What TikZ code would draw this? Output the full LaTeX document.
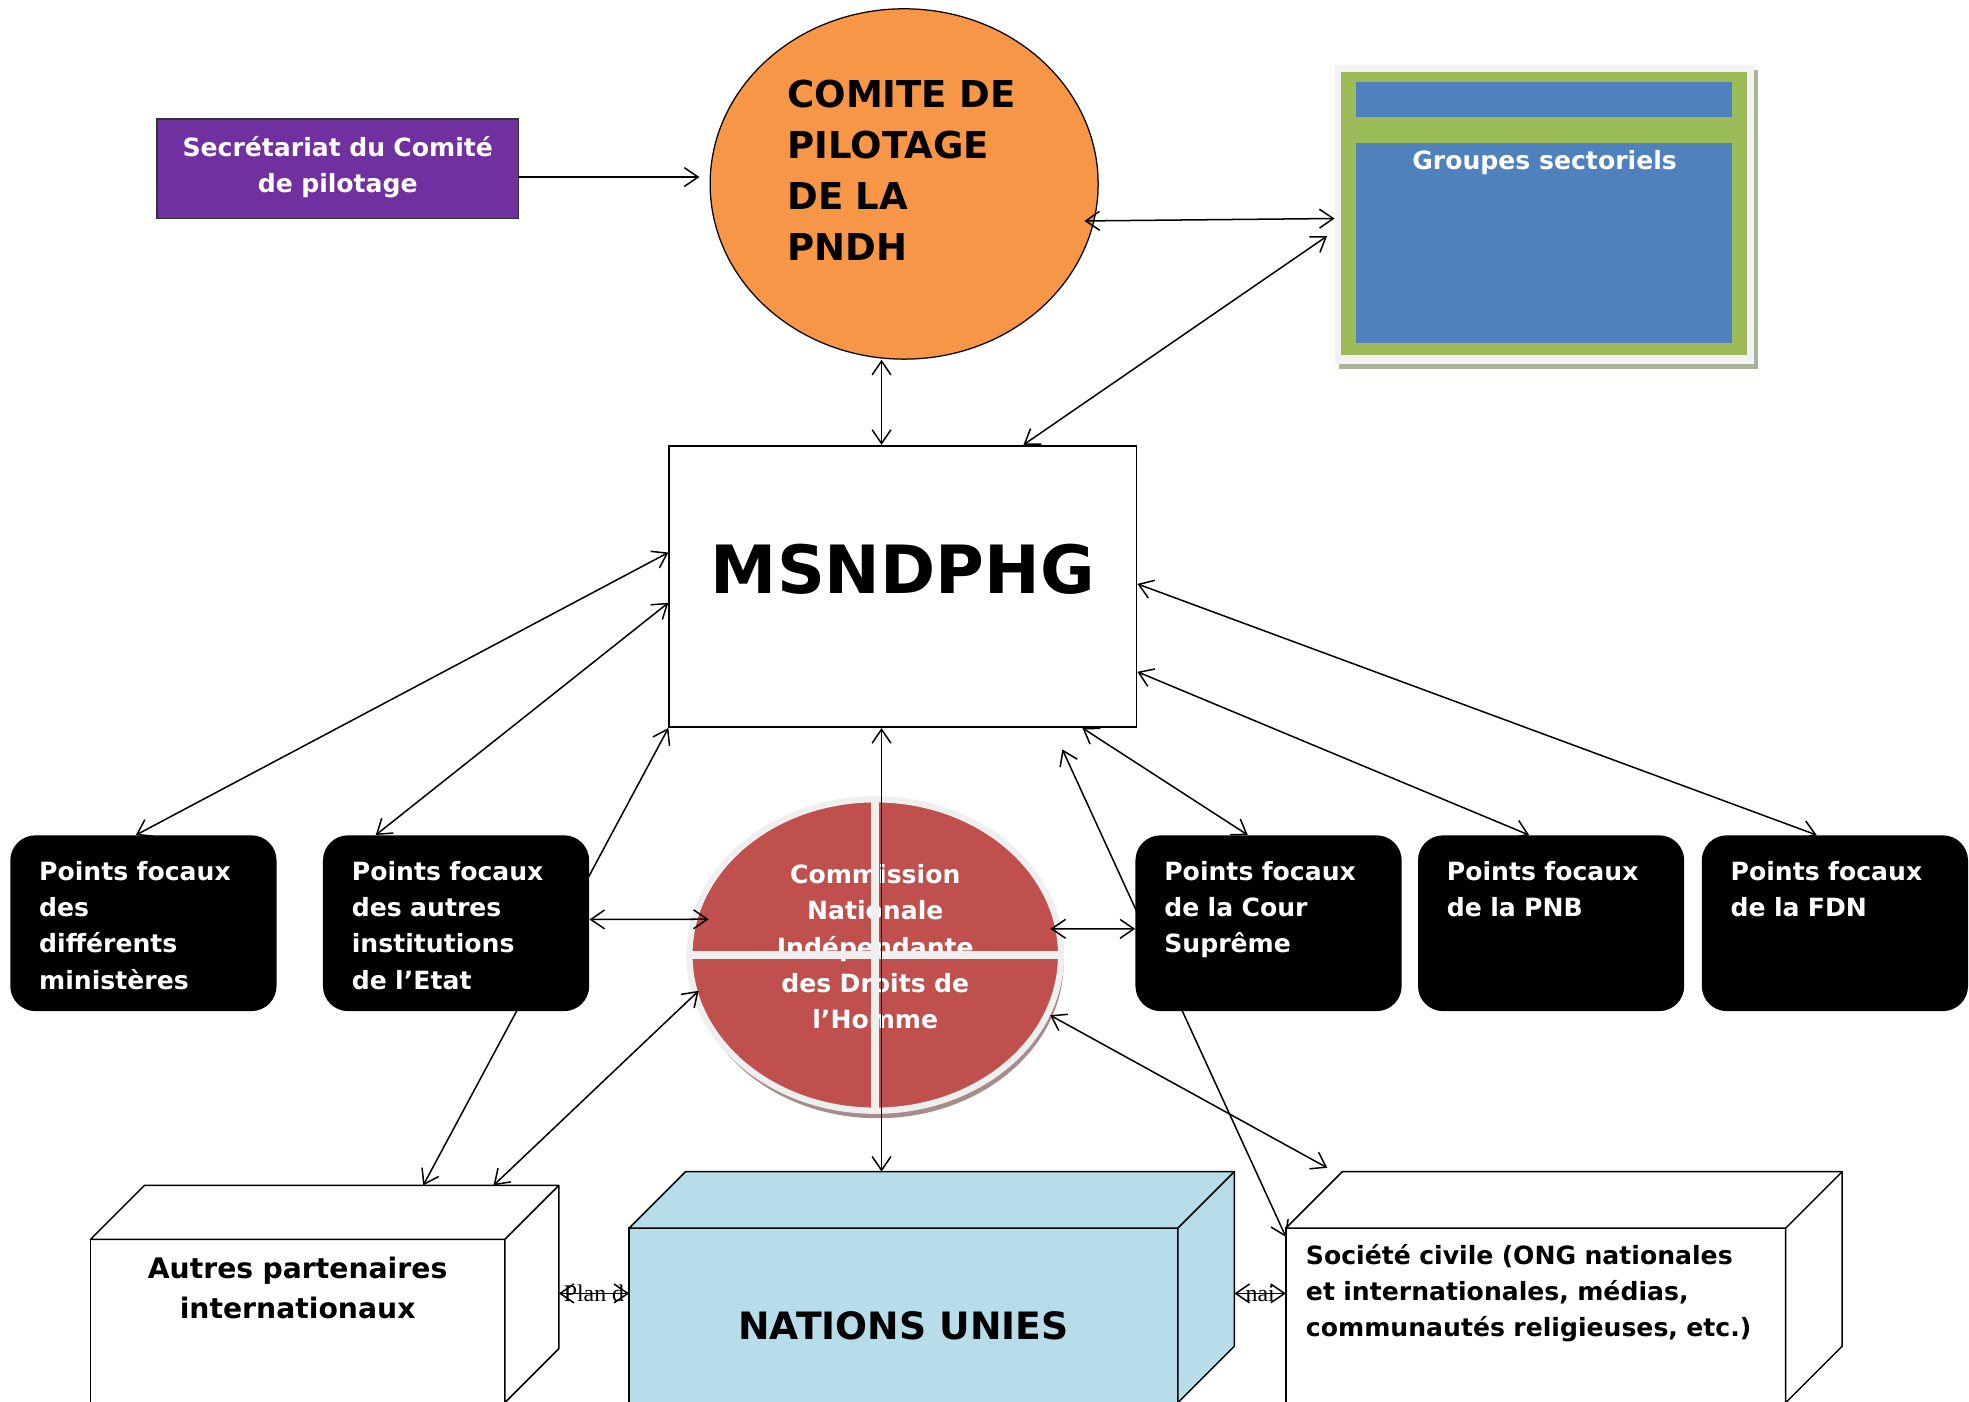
\documentclass[tikz,border=0pt]{standalone}
\usepackage{fontspec}
\setmainfont{DejaVu Sans}
\newfontfamily\labelfont{Liberation Serif}
\usetikzlibrary{shapes.geometric,arrows.meta,shadows}

\definecolor{secpurple}{HTML}{7030A0}
\definecolor{cporange}{HTML}{F79646}
\definecolor{gsgreen}{HTML}{9BBB59}
\definecolor{gsblue}{HTML}{4F81BD}
\definecolor{gsgray}{HTML}{F2F2F2}
\definecolor{gsshadow}{HTML}{A9B39C}
\definecolor{cndhred}{HTML}{C0504D}
\definecolor{cndhring}{HTML}{EFEFEF}
\definecolor{cndhshadow}{HTML}{A88C8C}
\definecolor{nublue}{HTML}{B7DDE8}

\pgfdeclarelayer{bg}
\pgfsetlayers{bg,main}

\tikzstyle{sec} = [rectangle, draw=black!80, line width=1.3pt, fill=secpurple, text=white,
    minimum width=288pt, minimum height=79pt, text width=270pt, align=center,
    text depth=36.4pt, font=\fontsize{20}{29}\selectfont\bfseries]
\tikzstyle{comite} = [ellipse, draw, line width=1pt, fill=cporange, inner sep=0pt,
    minimum width=309pt, minimum height=279pt, text width=186pt, align=left,
    text depth=143pt, font=\fontsize{29.5}{40.5}\selectfont\bfseries]
\tikzstyle{groupes} = [rectangle, fill=gsgray, inner sep=0pt, minimum width=334pt,
    minimum height=238pt, text=white, text depth=86.6pt,
    font=\fontsize{20}{24}\selectfont\bfseries,
    drop shadow={shadow xshift=3pt, shadow yshift=-4pt, fill=gsshadow, opacity=1},
    path picture={
        \fill[gsgreen] ([xshift=5pt,yshift=-5pt]path picture bounding box.north west)
            rectangle ([xshift=-6pt,yshift=7pt]path picture bounding box.south east);
        \fill[gsblue] ([xshift=17pt,yshift=-13pt]path picture bounding box.north west)
            rectangle ([xshift=-18pt,yshift=-41pt]path picture bounding box.north east);
        \fill[gsblue] ([xshift=17pt,yshift=-62pt]path picture bounding box.north west)
            rectangle ([xshift=-18pt,yshift=17pt]path picture bounding box.south east);
    }]
\tikzstyle{msnbox} = [rectangle, draw, line width=1.5pt, fill=white, minimum width=372pt,
    minimum height=224pt, text depth=28pt, font=\fontsize{53}{60}\selectfont\bfseries]
\tikzstyle{cndh} = [ellipse, draw=cndhring, line width=5pt, fill=cndhred, inner sep=0pt,
    minimum width=296pt, minimum height=248pt, text=white, text width=170pt,
    align=center, text depth=129.6pt, font=\fontsize{20}{29}\selectfont\bfseries,
    drop shadow={shadow xshift=2pt, shadow yshift=-6pt, fill=cndhshadow, opacity=1}]
\tikzstyle{focal} = [rectangle, rounded corners=20pt, fill=black, text=white,
    anchor=north west, text width=166pt, align=left, inner xsep=23pt, inner ysep=21pt,
    minimum height=140pt, text depth=82.6pt,
    font=\fontsize{20}{28.7}\selectfont\bfseries]
\tikzstyle{cube} = [rectangle, draw, line width=1.2pt, anchor=north west,
    outer sep=0pt, inner sep=0pt]
\tikzstyle{link} = [line width=1.2pt]
\tikzstyle{smalllabel} = [font=\labelfont\fontsize{19}{20}\selectfont, inner sep=0pt]

\begin{document}
\begin{tikzpicture}[x=1pt, y=-1pt, >={Straight Barb[length=11pt,width=15pt]}]
\useasboundingbox (0,0) rectangle (1568,1116);

% top row
\node[sec] (sec) at (269,134.5) {Secrétariat du Comité\\de pilotage};
\node[comite] (cp) at (720,146.5) {COMITE DE\\PILOTAGE\\DE LA\\PNDH};
\node[groupes] (gs) at (1230,171) {Groupes sectoriels};

\node[msnbox] (msn) at (719,467) {MSNDPHG};

\node[cndh] (cndh) at (697,760.5)
    {Commission\\Nationale\\Indépendante\\des Droits de\\l’Homme};
\draw[cndhring, line width=6pt] ([xshift=2pt]cndh.west) -- ([xshift=-2pt]cndh.east);
\draw[cndhring, line width=6pt] ([yshift=-2pt]cndh.north) -- ([yshift=2pt]cndh.south);

% points focaux
\node[focal] (pf1) at (8,665) {Points focaux\\des\\différents\\ministères};
\node[focal] (pf2) at (257,665) {Points focaux\\des autres\\institutions\\de l’Etat};
\node[focal] (pf3) at (904,665) {Points focaux\\de la Cour\\Suprême};
\node[focal] (pf4) at (1129,665) {Points focaux\\de la PNB};
\node[focal] (pf5) at (1355,665) {Points focaux\\de la FDN};

% partenaires
\node[cube, fill=white, minimum width=330pt, minimum height=130pt, text width=300pt,
    align=center, text depth=85.1pt, font=\fontsize{22.5}{32}\selectfont\bfseries]
    (autres) at (72,987) {Autres partenaires\\internationaux};
\node[cube, fill=nublue, minimum width=437pt, minimum height=139pt, text height=38.8pt,
    text depth=0pt, font=\fontsize{30}{36}\selectfont\bfseries]
    (nu) at (501,978) {NATIONS UNIES};
\node[cube, fill=white, minimum width=398pt, minimum height=139pt, text width=366pt,
    align=left, text depth=96.4pt, font=\fontsize{20}{28.5}\selectfont\bfseries]
    (sc) at (1024,978) {Société civile (ONG nationales\\et internationales, médias,\\communautés religieuses, etc.)};
\foreach \n/\d/\c in {autres/43/white, nu/45/nublue, sc/45/white} {
    \filldraw[fill=\c, line width=1.2pt, line join=round] (\n.north west) -- ++(\d,-\d)
        -- ([shift={(\d,-\d)}]\n.north east) -- ([shift={(\d,-\d)}]\n.south east)
        -- (\n.south east) -- (\n.north east) -- cycle;
    \draw[line width=1.2pt] (\n.north east) -- ++(\d,-\d);
}

% liens
\draw[link, ->] ([yshift=-6.5pt]sec.east) -- ([xshift=-8pt,yshift=5.5pt]cp.west);
\draw[link, <->] ([xshift=-8pt]cp.-11) -- ([yshift=-3pt]gs.west);
\draw[link, <->] ([xshift=96pt]msn.north) -- ([xshift=-6pt,yshift=-17pt]gs.west);
\draw[link, <->] ([xshift=-18pt]cp.south) -- ([xshift=-17pt]msn.north);
\draw[link, <->] ([xshift=-6pt]pf1.north) -- ([yshift=27pt]msn.west);
\draw[link, <->] ([xshift=-64pt]pf2.north) -- ([yshift=-13pt]msn.west);
\draw[link, <->] ([yshift=3pt]pf2.east) -- ([xshift=14pt]cndh.169);
\draw[link, <->] ([xshift=6pt]cndh.191) -- ([shift={(321,-43)}]autres.north west);
\draw[link, <->] ([xshift=-9pt]cndh.8) -- ([yshift=-4.5pt]pf3.west);
\draw[link, <->] (cndh.-19) -- ([shift={(33,-48)}]sc.north west);
\draw[link, <->] ([xshift=143pt]msn.south) -- ([xshift=-16.5pt]pf3.north);
\draw[link, <->] ([yshift=-68pt]msn.east) -- ([xshift=-17.5pt]pf4.north);
\draw[link, <->] ([yshift=2pt]msn.east) -- ([xshift=-14.5pt]pf5.north);
\draw[link, <->] ([xshift=-17pt]msn.south) -- ([shift={(201,-45)}]nu.north west);

\begin{pgfonlayer}{bg}
\draw[link, <->] (msn.south west) -- ([shift={(265,-43)}]autres.north west);
\draw[link, <->] ([xshift=127pt,yshift=-17pt]msn.south) -- ([yshift=-7pt]sc.north west);
\draw[link, <->] ([shift={(43,43)}]autres.north east) -- ([yshift=17.5pt]nu.west)
    node[smalllabel, midway] {Plan d};
\draw[link, <->] ([shift={(45,52)}]nu.north east) -- ([yshift=17.5pt]sc.west)
    node[smalllabel, midway] {nai};
\end{pgfonlayer}
\end{tikzpicture}
\end{document}
